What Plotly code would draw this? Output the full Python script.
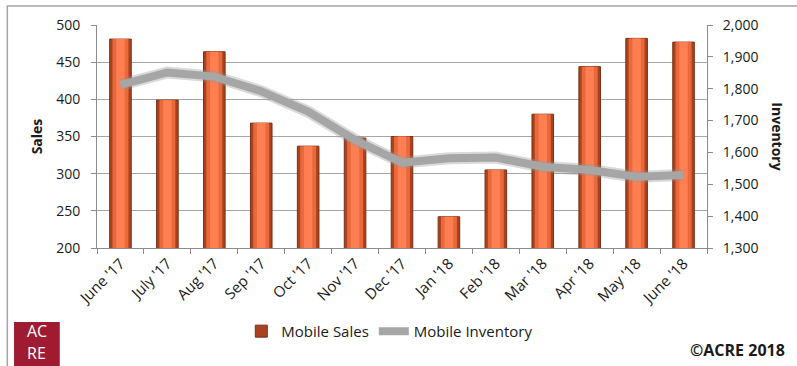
import plotly.graph_objects as go

months = ["June '17", "July '17", "Aug '17", "Sep '17", "Oct '17", "Nov '17", "Dec '17",
          "Jan '18", "Feb '18", "Mar '18", "Apr '18", "May '18", "June '18"]
mobile_sales = [481, 399, 464, 368, 337, 348, 350, 242, 305, 380, 444, 482, 477]
mobile_inventory = [1812, 1851, 1838, 1792, 1728, 1639, 1568, 1582, 1584, 1555, 1545, 1524, 1529]

FONT = "Open Sans"
fig = go.Figure()

# cylinder-like bars: dark body, mid-tone core, light centre highlight
fig.add_trace(go.Bar(x=months, y=mobile_sales, name="Mobile Sales", width=0.46,
                     marker=dict(color="#a9431f", line=dict(color="#7a3016", width=1)),
                     legendgroup="s", showlegend=True))
fig.add_trace(go.Bar(x=months, y=mobile_sales, width=0.34, marker=dict(color="#e9683c", line=dict(width=0)),
                     legendgroup="s", showlegend=False, hoverinfo="skip"))
fig.add_trace(go.Bar(x=months, y=mobile_sales, width=0.18, marker=dict(color="#ff7f52", line=dict(width=0)),
                     legendgroup="s", showlegend=False, hoverinfo="skip"))

# inventory line with a soft halo beneath
fig.add_trace(go.Scatter(x=months, y=mobile_inventory, yaxis="y2", mode="lines",
                         line=dict(color="rgba(150,150,150,0.35)", width=12),
                         showlegend=False, hoverinfo="skip"))
fig.add_trace(go.Scatter(x=months, y=mobile_inventory, yaxis="y2", mode="lines",
                         name="Mobile Inventory", line=dict(color="#a6a6a6", width=8)))

fig.update_layout(
    width=797, height=366,
    margin=dict(l=97, r=90, t=25, b=118),
    paper_bgcolor="white", plot_bgcolor="white",
    barmode="overlay",
    font=dict(family=FONT, size=13, color="#1a1a1a"),
    xaxis=dict(tickangle=-45, showgrid=False, showline=True, linecolor="#8c8c8c",
               ticks="outside", tickson="boundaries", ticklen=5, tickcolor="#8c8c8c",
               tickfont=dict(size=15)),
    yaxis=dict(range=[200, 500], dtick=50, showgrid=True, gridcolor="#a6a6a6",
               showline=True, linecolor="#8c8c8c", ticks="outside", ticklen=5,
               tickcolor="#8c8c8c", tickfont=dict(size=14), ticklabelstandoff=8,
               title=dict(text="<b>Sales</b>", font=dict(size=14), standoff=10)),
    yaxis2=dict(range=[1300, 2000], dtick=100, overlaying="y", side="right",
                showgrid=False, showline=True, linecolor="#8c8c8c", ticks="outside",
                ticklen=5, tickcolor="#8c8c8c", tickformat=",", tickfont=dict(size=14),
                ticklabelstandoff=7),
    legend=dict(orientation="h", x=0.48, xanchor="center", y=-0.30, yanchor="top",
                font=dict(size=15), traceorder="normal", entrywidth=0),
    showlegend=True,
)

# right axis title reads top to bottom
fig.add_annotation(text="<b>Inventory</b>", xref="paper", yref="paper", x=1.115, y=0.5,
                   xanchor="center", yanchor="middle",
                   textangle=90, showarrow=False, font=dict(size=14, family=FONT))

# copyright note
fig.add_annotation(text="<b>©ACRE 2018</b>", xref="paper", yref="paper", x=1.131, y=-0.457,
                   xanchor="right", yanchor="middle", showarrow=False, font=dict(size=16, family=FONT))

# outer frame
fig.add_shape(type="rect", xref="paper", yref="paper", x0=-0.147, x1=1.16, y0=-0.6, y1=1.085,
              line=dict(color="#a6a6a6", width=1.5), layer="below")

# logo block
fig.add_shape(type="rect", xref="paper", yref="paper", x0=-0.136, x1=-0.061, y0=-0.53, y1=-0.332,
              fillcolor="#9e1b32", line=dict(width=0))
fig.add_annotation(text="AC", xref="paper", yref="paper", x=-0.0985, y=-0.372,
                   xanchor="center", yanchor="middle", borderpad=0,
                   showarrow=False, font=dict(size=16, color="white", family=FONT))
fig.add_annotation(text="RE", xref="paper", yref="paper", x=-0.0985, y=-0.470,
                   xanchor="center", yanchor="middle", borderpad=0,
                   showarrow=False, font=dict(size=16, color="white", family=FONT))

fig.write_html("out.html")
